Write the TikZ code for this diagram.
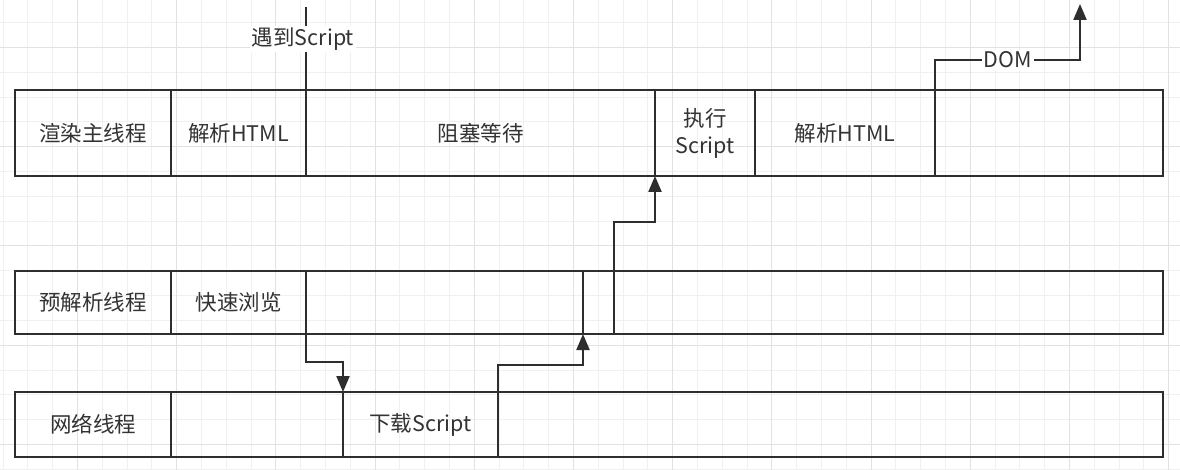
\documentclass[tikz,border=0pt]{standalone}
\usepackage{fontspec}
\setmainfont{Noto Sans CJK SC}
\usetikzlibrary{arrows.meta}
\definecolor{linec}{HTML}{2E2E2E}
\definecolor{textc}{HTML}{333333}
\definecolor{gridminor}{HTML}{F0F0F0}
\definecolor{gridmajor}{HTML}{E2E2E2}
\tikzset{
  cell/.style={draw=linec, line width=2.2pt, inner sep=0pt, outer sep=0pt,
    font=\fontsize{21.5}{27}\selectfont, text=textc, align=center},
  conn/.style={draw=linec, line width=2.2pt},
  arr/.style={conn, -{Triangle[length=16pt,width=13pt]}},
  lbl/.style={fill=white, inner sep=2pt, font=\fontsize{21.5}{26}\selectfont, text=textc},
}
\newcommand\mycell[6]{\node[cell, minimum width={#3-#2}, minimum height={#5-#4}] (#1) at ({(#2+#3)/2},{(#4+#5)/2}) {#6};}
\begin{document}
\begin{tikzpicture}[x=1pt,y=-1pt]
\useasboundingbox (0,0) rectangle (1180,470);
\fill[white] (0,0) rectangle (1180,470);
% grid
\foreach \i in {0,...,47} \draw[gridminor, line width=1pt] ({3.1+24.8*\i},0) -- ++(0,470);
\foreach \j in {0,...,18} \draw[gridminor, line width=1pt] (0,{22.8+24.8*\j}) -- ++(1180,0);
\foreach \k in {0,...,11} \draw[gridmajor, line width=1pt] ({77.5+99.2*\k},0) -- ++(0,470);
\foreach \k in {0,...,4} \draw[gridmajor, line width=1pt] (0,{47.6+99.2*\k}) -- ++(1180,0);
% row 1
\mycell{r1a}{15}{171}{90}{176}{渲染主线程}
\mycell{r1b}{171}{306}{90}{176}{解析HTML}
\mycell{r1c}{306}{655}{90}{176}{阻塞等待}
\mycell{r1d}{655}{755}{90}{176}{执行\\Script}
\mycell{r1e}{755}{935}{90}{176}{解析HTML}
\mycell{r1f}{935}{1163}{90}{176}{}
% row 2
\mycell{r2a}{15}{171}{271}{334}{预解析线程}
\mycell{r2b}{171}{306}{271}{334}{快速浏览}
\mycell{r2c}{306}{583}{271}{334}{}
\mycell{r2d}{583}{614}{271}{334}{}
\mycell{r2e}{614}{1163}{271}{334}{}
% row 3
\mycell{r3a}{15}{171}{392}{457}{网络线程}
\mycell{r3b}{171}{343}{392}{457}{}
\mycell{r3c}{343}{498}{392}{457}{下载Script}
\mycell{r3d}{498}{1163}{392}{457}{}
% connectors
\coordinate (enc) at (306,7);
\draw[conn] (enc) -- (r1b.north east);
\node[lbl] (enclbl) at (303,39) {遇到Script};
\coordinate (domtop) at (1080,4);
\draw[arr] (r1f.north west) -- ++(0,-30) -| (domtop);
\node[lbl] (domlbl) at (1008,60) {DOM};
\draw[arr] (r2b.south east) -- ++(0,28) -| (r3c.north west);
\draw[arr] (r3c.north east) -- ++(0,-27) -| (r2c.south east);
\draw[arr] (r2d.north east) -- ++(0,-49) -| (r1d.south west);
\end{tikzpicture}
\end{document}
